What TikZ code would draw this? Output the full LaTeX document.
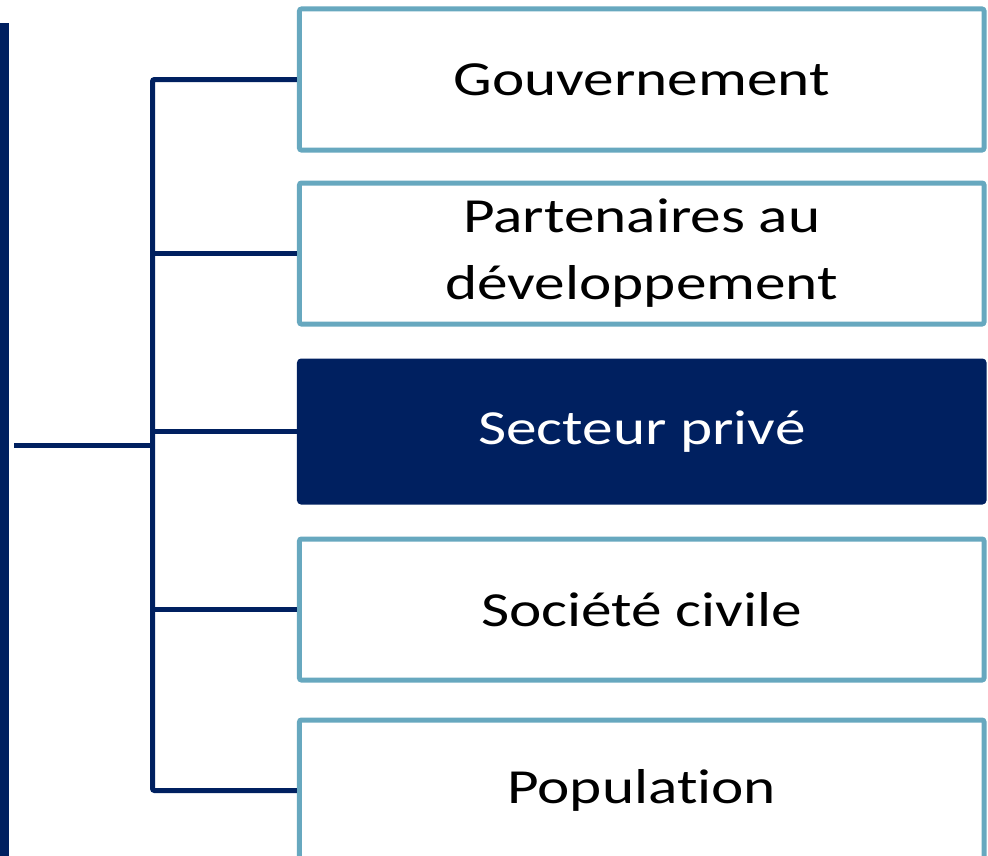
\documentclass[tikz,border=0pt]{standalone}
\usepackage{fontspec}
\setmainfont{Carlito}[FakeStretch=1.25, Ligatures=NoCommon]
\definecolor{navy}{HTML}{002060}
\definecolor{teal}{HTML}{67A8BF}
\tikzset{
  box/.style={draw=teal, line width=5bp, fill=white, rounded corners=2bp,
    minimum width=684.5bp, minimum height=141bp, inner sep=0pt, align=center,
    text=black, font=\fontsize{49bp}{67bp}\selectfont},
  hibox/.style={box, draw=navy, fill=navy, text=white},
  conn/.style={draw=navy, line width=5bp},
}
\begin{document}
\begin{tikzpicture}[x=1bp,y=-1bp]
\useasboundingbox (0,0) rectangle (988,856);
\clip (0,0) rectangle (988,856);
\fill[navy] (0,23) rectangle (9,870);
\node[box]   (b1) at (641.75,79.5)  {Gouvernement};
\node[box]   (b2) at (641.75,253.5) {Partenaires au\\d\'eveloppement};
\node[hibox] (b3) at (641.75,431.5) {Secteur priv\'e};
\node[box]   (b4) at (641.75,609.5) {Soci\'et\'e civile};
\node[box]   (b5) at (641.75,790.5) {Population};
\coordinate (sp) at (152.5,445);
\coordinate (lft) at (14,445);
\draw[conn] (lft) -- (sp);
\draw[conn, rounded corners=2bp] (b1.west) -- (b1.west -| sp) -- (b5.west -| sp) -- (b5.west);
\draw[conn] (b2.west -| sp) -- (b2.west);
\draw[conn] (b3.west -| sp) -- (b3.west);
\draw[conn] (b4.west -| sp) -- (b4.west);
\end{tikzpicture}
\end{document}
